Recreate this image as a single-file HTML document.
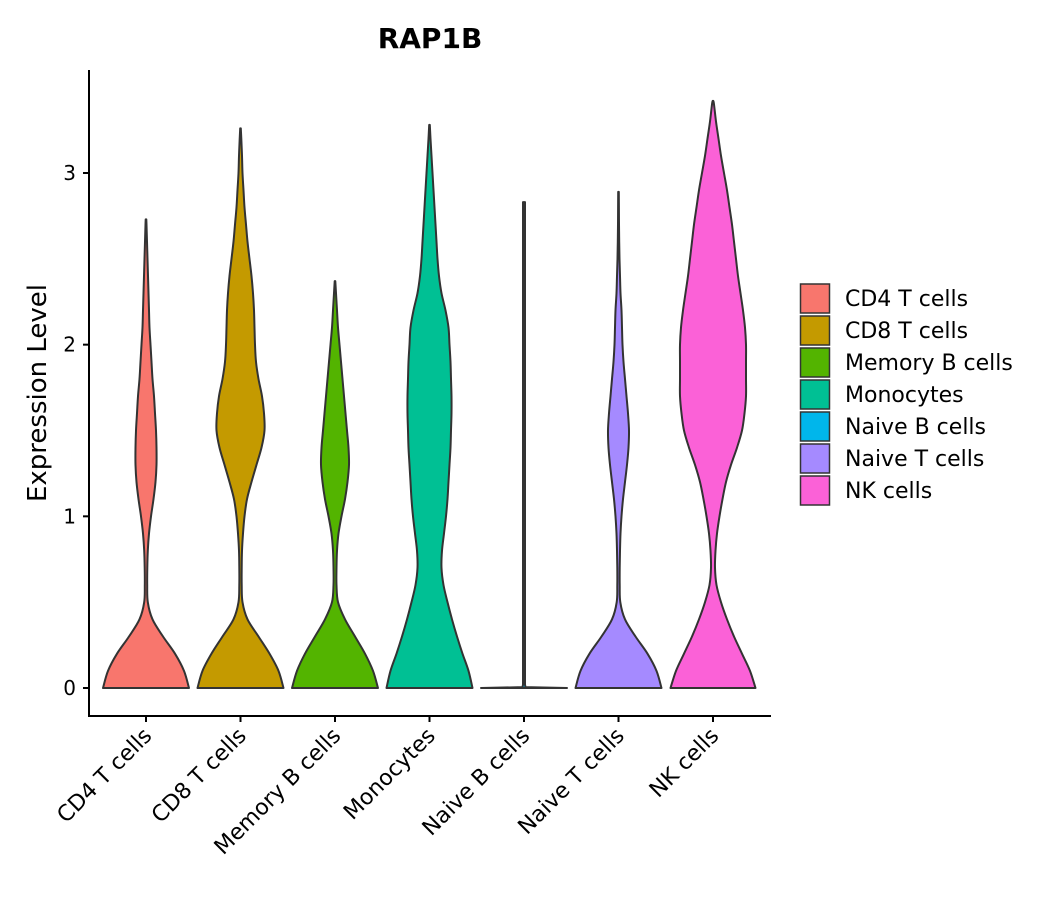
<!DOCTYPE html>
<html><head><meta charset="utf-8"><style>
body{margin:0;background:#fff;}
svg text{font-family:"DejaVu Sans","Liberation Sans",sans-serif;fill:#000;}
</style></head><body>
<svg id="chart" width="1050" height="900" xmlns="http://www.w3.org/2000/svg">
<text x="430" y="48" text-anchor="middle" font-size="28" font-weight="bold">RAP1B</text>
<text transform="translate(46,393) rotate(-90)" text-anchor="middle" font-size="26">Expression Level</text>
<g id="plot"></g>
<g id="legend"></g>
</svg>
<script>
const categories = ["CD4 T cells","CD8 T cells","Memory B cells","Monocytes","Naive B cells","Naive T cells","NK cells"];
const colors = ["#F8766D","#C49A00","#53B400","#00C094","#00B6EB","#A58AFF","#FB61D7"];
const maxima = [2.73, 3.26, 2.37, 3.28, 2.83, 2.89, 3.42];
const yTicks = [0, 1, 2, 3];
// half-widths (px) at levels 0, 0.1, 0.2, ... (density shape)
const widthsCD4 = [43,38,29,17,6.5,1.8,1.2,1.3,1.8,3,5,7.5,9.5,10.5,10.5,10,9,8,6.5,5.5,4.5,3.5,3,2.5,2,1.5,1,0.5];
const widthsCD8 = [43,38,29,18,7,2,1.2,1.2,1.5,2.5,4,6.5,11,16,21,24,23.5,21.5,18,15.5,14.5,14,13.5,12.5,11,9,7,5.5,4,3,2,1.5,0.8];
const widthsMemB = [43,38,30,20,10,3,1.5,1.5,2,3.5,6.5,10,12.5,14,13.5,12,10.5,9,7.5,6,4.5,3,2,1];
const widthsMono = [43,39,33,27.5,22.5,18,14,12,12.5,14.5,16.5,18,19,20,21,21.5,22,22,21.5,21,20,19,16,12,9.5,8,7,6,5,4,3,2,1];
const levelsNaiveB = [0, 0.005, 0.02, 2.83];
const widthsNaiveB = [43, 1.5, 1, 1];
const widthsNaiveT = [43,38,29,17,6.5,1.8,1.2,1.2,1.5,2,3,4.5,6.5,8.5,10,10.5,9.5,8,6.5,5,4,3.5,3,2,1.5,1,0.7,0.5,0.4];
const widthsNK = [42.5,37,29,21,14,8,3.5,2,2.5,4,6.5,9.5,13,18,24,29,31.5,33,33,33,33,32,30,27.5,25,23,21,19,16.5,14,11,8,5.5,3,1];

const X0 = 146, DX = 94.5, Y0 = 688, UNIT = 171.67;
const xPos = i => X0 + i * DX;
const yPos = v => Y0 - v * UNIT;
const NS = "http://www.w3.org/2000/svg";
const plot = document.getElementById('plot');

function mk(tag, attrs, parent){const e=document.createElementNS(NS,tag);for(const k in attrs)e.setAttribute(k,attrs[k]);parent.appendChild(e);return e;}

function getShape(i){
  if(i===4) return {lv:levelsNaiveB, w:widthsNaiveB, linear:true};
  const w=[widthsCD4,widthsCD8,widthsMemB,widthsMono,null,widthsNaiveT,widthsNK][i].slice();
  const lv=w.map((_,k)=>k*0.1);
  lv.push(maxima[i]); w.push(0.3);
  return {lv,w,linear:false};
}
function catmull(pts){
  let d=`M${pts[0][0]},${pts[0][1]}`;
  for(let k=0;k<pts.length-1;k++){
    const p0=pts[Math.max(0,k-1)],p1=pts[k],p2=pts[k+1],p3=pts[Math.min(pts.length-1,k+2)];
    const c1=[p1[0]+(p2[0]-p0[0])/6,p1[1]+(p2[1]-p0[1])/6];
    const c2=[p2[0]-(p3[0]-p1[0])/6,p2[1]-(p3[1]-p1[1])/6];
    d+=` C${c1[0]},${c1[1]} ${c2[0]},${c2[1]} ${p2[0]},${p2[1]}`;
  }
  return d;
}
function linear(pts){return 'M'+pts.map(p=>p[0]+','+p[1]).join(' L');}
categories.forEach((c,i)=>{
  const {lv,w,linear:lin}=getShape(i);
  const cx=xPos(i);
  const right=lv.map((v,k)=>[cx+w[k],yPos(v)]);
  const left=lv.map((v,k)=>[cx-w[k],yPos(v)]).reverse();
  const f=lin?linear:catmull;
  let d=f(right);
  d+=` L${left[0][0]},${left[0][1]}`;
  d+=' '+f(left).replace(/^M[^ CL]+/,'');
  d+=' Z';
  const p=mk('path',{d,fill:colors[i],stroke:'#333','stroke-width':2,'stroke-linejoin':'round'},plot);
  
  
});
// axes
const ya=mk('line',{x1:89,y1:70,x2:89,y2:717,stroke:'#000','stroke-width':2},plot);


const xa=mk('line',{x1:88,y1:716,x2:771,y2:716,stroke:'#000','stroke-width':2},plot);


yTicks.forEach(t=>{
  mk('line',{x1:83,y1:yPos(t),x2:89,y2:yPos(t),stroke:'#000','stroke-width':2},plot);
  const tx=mk('text',{x:76,y:yPos(t)+7,'text-anchor':'end','font-size':20},plot);
  tx.textContent=t;
  
  
});
categories.forEach((c,i)=>{
  const x=xPos(i);
  mk('line',{x1:x,y1:716,x2:x,y2:722,stroke:'#000','stroke-width':2},plot);
  const tx=mk('text',{transform:`translate(${x+7},${737}) rotate(-45)`,'text-anchor':'end','font-size':22},plot);
  tx.textContent=c;
  
  
});
// legend
const lg=document.getElementById('legend');
categories.forEach((c,i)=>{
  const y=284+i*32;
  const r=mk('rect',{x:800.5,y:y,width:29,height:29,fill:colors[i],stroke:'#333','stroke-width':1.5},lg);
  
  
  const t=mk('text',{x:845,y:y+22,'font-size':22},lg);
  t.textContent=c;
  
  
});
</script>
</body></html>
